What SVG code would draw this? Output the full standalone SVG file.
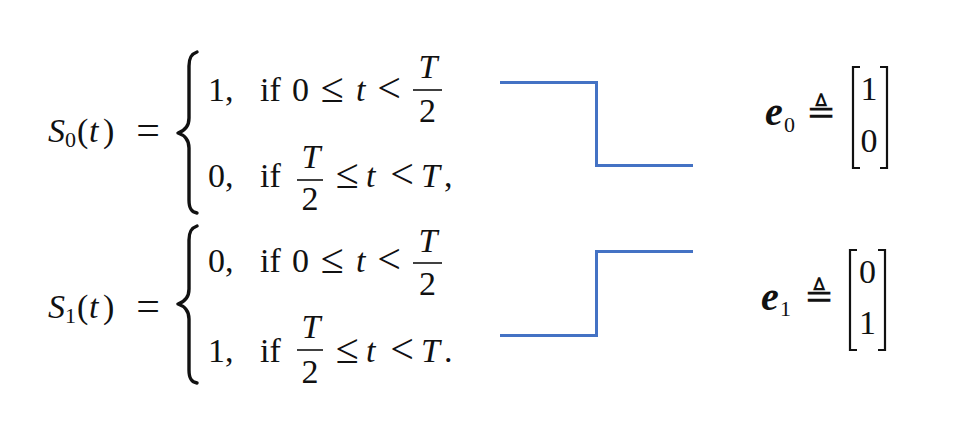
<svg xmlns="http://www.w3.org/2000/svg" width="975" height="422" viewBox="0 0 975 422">
<style>
.m{font-family:"Liberation Serif","Times New Roman",serif;font-size:34px;fill:#111}
.i{font-style:italic}
.s{font-family:"Liberation Serif","Times New Roman",serif;font-size:22px;fill:#111}
.y{font-family:"Liberation Serif","Times New Roman",serif;font-size:42px;fill:#111;text-anchor:middle}
.c{text-anchor:middle}
.b{font-weight:bold;font-style:italic;font-size:40px}
.bar{stroke:#111;stroke-width:1.6}
.brace{fill:none;stroke:#111;stroke-width:3.4;stroke-linecap:round;stroke-linejoin:round}
.brk{fill:none;stroke:#111;stroke-width:2.2}
.wave{fill:none;stroke:#4472C4;stroke-width:3}
.def{font-family:"DejaVu Serif",serif;font-size:36px;fill:#111;text-anchor:middle}
</style>
<rect width="975" height="422" fill="#fff"/>
<g id="s0">
<text class="m i" x="48" y="142">S</text>
<text class="s" x="65" y="147">0</text>
<text class="m" x="77" y="142">(</text>
<text class="m i" x="89" y="142">t</text>
<text class="m" x="103" y="142">)</text>
<text class="y" x="148" y="144">=</text>
<path class="brace" d="M197,52 C191,54 189,58 189,66 L189,118 C189,127 184,131 178,133 C184,135 189,139 189,148 L189,200 C189,208 191,212 197,213"/>
<text class="m" x="208" y="101">1,</text>
<text class="m" x="260" y="101">if</text>
<text class="m" x="292" y="101">0</text>
<text class="y" x="332" y="102">≤</text>
<text class="m i" x="356" y="101">t</text>
<text class="y" x="389" y="102">&lt;</text>
<line class="bar" x1="413" y1="90" x2="442" y2="90"/>
<text class="m i c" x="428" y="78">T</text>
<text class="m c" x="427.5" y="122">2</text>
<text class="m" x="208" y="187">0,</text>
<text class="m" x="260" y="187">if</text>
<line class="bar" x1="297" y1="180" x2="323" y2="180"/>
<text class="m i c" x="311" y="168">T</text>
<text class="m c" x="310" y="210">2</text>
<text class="y" x="347" y="188">≤</text>
<text class="m i" x="366" y="187">t</text>
<text class="y" x="402" y="188">&lt;</text>
<text class="m i" x="421" y="187">T</text>
<text class="m" x="444" y="187">,</text>
</g>
<g id="s1">
<text class="m i" x="48" y="318">S</text>
<text class="s" x="65" y="323">1</text>
<text class="m" x="77" y="318">(</text>
<text class="m i" x="89" y="318">t</text>
<text class="m" x="103" y="318">)</text>
<text class="y" x="148" y="320">=</text>
<path class="brace" d="M197,226 C191,228 189,232 189,240 L189,289 C189,298 184,302 178,304 C184,306 189,310 189,319 L189,370 C189,378 191,382 197,383"/>
<text class="m" x="208" y="272">0,</text>
<text class="m" x="260" y="272">if</text>
<text class="m" x="292" y="272">0</text>
<text class="y" x="332" y="273">≤</text>
<text class="m i" x="356" y="272">t</text>
<text class="y" x="389" y="273">&lt;</text>
<line class="bar" x1="413" y1="263" x2="442" y2="263"/>
<text class="m i c" x="428" y="252">T</text>
<text class="m c" x="427.5" y="295">2</text>
<text class="m" x="208" y="362">1,</text>
<text class="m" x="260" y="362">if</text>
<line class="bar" x1="297" y1="350" x2="323" y2="350"/>
<text class="m i c" x="311" y="338">T</text>
<text class="m c" x="310" y="383">2</text>
<text class="y" x="347" y="363">≤</text>
<text class="m i" x="366" y="362">t</text>
<text class="y" x="402" y="363">&lt;</text>
<text class="m i" x="421" y="362">T</text>
<text class="m" x="444" y="362">.</text>
</g>
<g id="connectors">
<polyline class="wave" points="500,82.5 596.5,82.5 596.5,165.5 693,165.5"/>
<polyline class="wave" points="500,335.5 596.5,335.5 596.5,251.5 693,251.5"/>
</g>
<g id="e0">
<text class="m b" x="765" y="125">e</text>
<text class="s" x="784" y="132">0</text>
<text class="def" x="821" y="124">≜</text>
<path class="brk" d="M860,67 L853,67 L853,168 L860,168"/>
<path class="brk" d="M880,67 L887,67 L887,168 L880,168"/>
<text class="m c" x="869" y="100">1</text>
<text class="m c" x="869" y="152">0</text>
</g>
<g id="e1">
<text class="m b" x="761" y="310">e</text>
<text class="s" x="780" y="316">1</text>
<text class="def" x="819" y="308">≜</text>
<path class="brk" d="M857,250 L850,250 L850,350 L857,350"/>
<path class="brk" d="M878,250 L885,250 L885,350 L878,350"/>
<text class="m c" x="867.5" y="283">0</text>
<text class="m c" x="867.5" y="334">1</text>
</g>
</svg>
